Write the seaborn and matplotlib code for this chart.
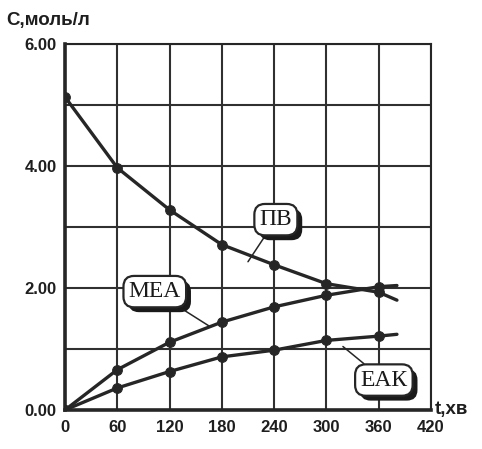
import matplotlib
matplotlib.use("Agg")
import matplotlib.pyplot as plt
import matplotlib.patheffects as pe
import seaborn as sns
import numpy as np

# час, хв
t = [0, 60, 120, 180, 240, 300, 360]
# концентрації, моль/л
pv = [5.13, 3.97, 3.28, 2.71, 2.38, 2.07, 1.93]
mea = [0.0, 0.66, 1.11, 1.44, 1.69, 1.88, 2.02]
eak = [0.0, 0.36, 0.63, 0.87, 0.98, 1.14, 1.21]
# кінці кривих (без маркера)
t_end = 381
pv_end, mea_end, eak_end = 1.80, 2.04, 1.24

x_ticks = [0, 60, 120, 180, 240, 300, 360, 420]
y_ticks = [0, 2, 4, 6]

sns.set_style("white")
plt.rcParams['font.family'] = ['Liberation Sans', 'DejaVu Sans']

fig = plt.figure(figsize=(4.82, 4.49), dpi=100)
ax = fig.add_axes([0.135, 0.087, 0.759, 0.815])

col = "#262626"
for vals, end in [(pv, pv_end), (mea, mea_end), (eak, eak_end)]:
    sns.lineplot(x=t + [t_end], y=vals + [end], ax=ax, color=col, lw=2.4,
                 marker="o", markersize=7, markevery=list(range(len(t))),
                 markeredgecolor=col, markerfacecolor=col, sort=False)

ax.set_xlim(0, 420)
ax.set_ylim(0, 6)
ax.set_xticks(x_ticks)
ax.set_xticklabels([str(v) for v in x_ticks])
ax.set_yticks(y_ticks)
ax.set_yticklabels(["%.2f" % v for v in y_ticks])
ax.set_yticks([1, 3, 5], minor=True)
ax.grid(True, which="both", color="#303030", lw=1.5)
ax.tick_params(axis="y", which="major", length=5, width=1.8, color=col, pad=1)
ax.tick_params(axis="y", which="minor", length=0)
ax.tick_params(axis="x", length=5, width=1.5, color=col, pad=2)
for lab in ax.get_xticklabels() + ax.get_yticklabels():
    lab.set_fontweight("bold")
    lab.set_fontsize(12)
    lab.set_color("#1e1e1e")
for s in ax.spines.values():
    s.set_color(col)
    s.set_linewidth(1.5)
ax.spines["left"].set_linewidth(2.6)
ax.spines["bottom"].set_linewidth(2.6)
ax.set_xlabel("")
ax.set_ylabel("")

# підписи кривих
labels = [("ПВ", (242, 3.12), (210, 2.43)),
          ("МЕА", (103, 1.94), (166, 1.37)),
          ("ЕАК", (366, 0.49), (319, 1.04))]
for txt, pos, tip in labels:
    a = ax.annotate(txt, xy=tip, xytext=pos, ha="center", va="center",
                    fontsize=17, family=["Liberation Serif", "DejaVu Serif"],
                    color="#1a1a1a",
                    bbox=dict(boxstyle="round,pad=0.22,rounding_size=0.45",
                              fc="white", ec=col, lw=1.6),
                    arrowprops=dict(arrowstyle="-", color=col, lw=1.1,
                                    shrinkA=0, shrinkB=0))
    a.get_bbox_patch().set_path_effects(
        [pe.SimplePatchShadow(offset=(3.5, -3.5), shadow_rgbFace="#1a1a1a", alpha=1.0),
         pe.Normal()])

fig.text(0.014, 0.955, "C,моль/л", fontsize=13.5, fontweight="bold",
         color="#1e1e1e", ha="left", va="center")
fig.text(0.902, 0.087, "t,хв", fontsize=13.5, fontweight="bold",
         color="#1e1e1e", ha="left", va="center")

fig.savefig("out.png", dpi=100)
